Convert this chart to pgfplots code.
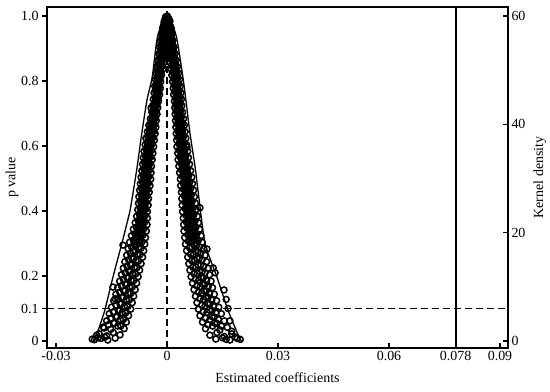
\documentclass[border=0pt]{standalone}
\usepackage{fontspec}
\setmainfont{Liberation Serif}
\usepackage{pgfplots}
\usepackage{pgfplotstable}
\pgfplotsset{compat=1.18}

% p values of the placebo estimates (coefficient, p value)
\pgfplotstableread[row sep=\\]{
x y\\
-0.0003 0.998\\ -0.0001 0.994\\ 0.0000 0.990\\ -0.0002 0.985\\
-0.0008 0.982\\ -0.0005 0.975\\ -0.0003 0.986\\ -0.0001 0.978\\
-0.0012 0.963\\ -0.0008 0.955\\ -0.0005 0.967\\ -0.0002 0.958\\
-0.0015 0.944\\ -0.0011 0.934\\ -0.0007 0.947\\ -0.0003 0.938\\
-0.0018 0.923\\ -0.0013 0.914\\ -0.0008 0.927\\ -0.0004 0.918\\
-0.0020 0.904\\ -0.0015 0.894\\ -0.0010 0.907\\ -0.0005 0.898\\
-0.0022 0.884\\ -0.0016 0.874\\ -0.0011 0.887\\ -0.0006 0.878\\
-0.0025 0.863\\ -0.0019 0.854\\ -0.0013 0.867\\ -0.0008 0.858\\
-0.0027 0.844\\ -0.0021 0.834\\ -0.0015 0.847\\ -0.0010 0.838\\
-0.0029 0.824\\ -0.0024 0.814\\ -0.0019 0.827\\ -0.0015 0.818\\
-0.0031 0.804\\ -0.0026 0.794\\ -0.0021 0.807\\ -0.0017 0.798\\
-0.0033 0.784\\ -0.0028 0.774\\ -0.0023 0.787\\ -0.0018 0.778\\
-0.0035 0.764\\ -0.0029 0.754\\ -0.0024 0.767\\ -0.0020 0.758\\
-0.0037 0.744\\ -0.0031 0.734\\ -0.0027 0.747\\ -0.0023 0.738\\
-0.0039 0.724\\ -0.0034 0.714\\ -0.0029 0.727\\ -0.0025 0.718\\
-0.0041 0.704\\ -0.0036 0.694\\ -0.0031 0.707\\ -0.0027 0.698\\
-0.0045 0.684\\ -0.0039 0.674\\ -0.0034 0.687\\ -0.0029 0.678\\
-0.0049 0.664\\ -0.0043 0.654\\ -0.0036 0.667\\ -0.0030 0.658\\
-0.0053 0.644\\ -0.0046 0.634\\ -0.0039 0.647\\ -0.0032 0.638\\
-0.0057 0.624\\ -0.0049 0.614\\ -0.0042 0.627\\ -0.0034 0.618\\
-0.0059 0.604\\ -0.0051 0.594\\ -0.0044 0.607\\ -0.0036 0.598\\
-0.0062 0.584\\ -0.0054 0.574\\ -0.0046 0.587\\ -0.0038 0.578\\
-0.0064 0.564\\ -0.0056 0.554\\ -0.0048 0.567\\ -0.0040 0.558\\
-0.0066 0.544\\ -0.0058 0.534\\ -0.0050 0.547\\ -0.0042 0.538\\
-0.0068 0.524\\ -0.0060 0.514\\ -0.0051 0.527\\ -0.0043 0.518\\
-0.0070 0.504\\ -0.0061 0.494\\ -0.0053 0.507\\ -0.0044 0.498\\
-0.0072 0.484\\ -0.0063 0.474\\ -0.0055 0.487\\ -0.0046 0.478\\
-0.0074 0.464\\ -0.0065 0.454\\ -0.0057 0.467\\ -0.0048 0.458\\
-0.0076 0.444\\ -0.0067 0.434\\ -0.0058 0.447\\ -0.0050 0.438\\
-0.0077 0.424\\ -0.0068 0.414\\ -0.0060 0.427\\ -0.0051 0.418\\
-0.0079 0.404\\ -0.0070 0.394\\ -0.0062 0.407\\ -0.0053 0.398\\
-0.0082 0.384\\ -0.0072 0.374\\ -0.0063 0.387\\ -0.0053 0.378\\
-0.0086 0.364\\ -0.0075 0.354\\ -0.0065 0.367\\ -0.0054 0.358\\
-0.0091 0.344\\ -0.0079 0.334\\ -0.0067 0.347\\ -0.0056 0.338\\
-0.0096 0.324\\ -0.0083 0.314\\ -0.0070 0.327\\ -0.0058 0.318\\
-0.0101 0.304\\ -0.0087 0.294\\ -0.0073 0.307\\ -0.0060 0.298\\
-0.0105 0.284\\ -0.0091 0.274\\ -0.0077 0.287\\ -0.0063 0.278\\
-0.0109 0.264\\ -0.0095 0.254\\ -0.0080 0.267\\ -0.0066 0.258\\
-0.0114 0.244\\ -0.0099 0.234\\ -0.0084 0.247\\ -0.0070 0.238\\
-0.0118 0.224\\ -0.0103 0.214\\ -0.0088 0.227\\ -0.0074 0.218\\
-0.0123 0.204\\ -0.0108 0.194\\ -0.0093 0.207\\ -0.0078 0.198\\
-0.0128 0.184\\ -0.0112 0.174\\ -0.0097 0.187\\ -0.0082 0.178\\
-0.0133 0.164\\ -0.0117 0.154\\ -0.0101 0.167\\ -0.0086 0.158\\
-0.0138 0.144\\ -0.0122 0.134\\ -0.0105 0.147\\ -0.0090 0.138\\
-0.0144 0.124\\ -0.0127 0.114\\ -0.0110 0.127\\ -0.0094 0.118\\
-0.0150 0.104\\ -0.0132 0.094\\ -0.0115 0.107\\ -0.0098 0.098\\
-0.0156 0.084\\ -0.0138 0.074\\ -0.0121 0.087\\ -0.0104 0.078\\
-0.0163 0.062\\ -0.0144 0.055\\ -0.0126 0.066\\ -0.0110 0.058\\
-0.0172 0.043\\ -0.0152 0.036\\ -0.0133 0.046\\ -0.0116 0.038\\
-0.0183 0.022\\ -0.0163 0.016\\ -0.0145 0.026\\ -0.0127 0.019\\
-0.0196 0.004\\ -0.0178 0.008\\ -0.0160 0.003\\ -0.0140 0.009\\
-0.0043 0.717\\ -0.0119 0.295\\ -0.0146 0.166\\ -0.0140 0.130\\
-0.0170 0.040\\ -0.0190 0.018\\ -0.0202 0.006\\ -0.0186 0.010\\
-0.0168 0.012\\
-0.0005 0.990\\ -0.0004 0.995\\ -0.0002 0.986\\
-0.0009 0.970\\ -0.0006 0.975\\ -0.0003 0.966\\
-0.0012 0.950\\ -0.0008 0.955\\ -0.0005 0.946\\
-0.0014 0.930\\ -0.0010 0.935\\ -0.0006 0.926\\
-0.0016 0.910\\ -0.0012 0.915\\ -0.0007 0.906\\
-0.0018 0.890\\ -0.0013 0.895\\ -0.0008 0.886\\
-0.0020 0.870\\ -0.0015 0.875\\ -0.0010 0.866\\
-0.0023 0.850\\ -0.0018 0.855\\ -0.0012 0.846\\
-0.0025 0.830\\ -0.0020 0.835\\ -0.0016 0.826\\
-0.0027 0.810\\ -0.0023 0.815\\ -0.0019 0.806\\
-0.0029 0.790\\ -0.0025 0.795\\ -0.0020 0.786\\
-0.0031 0.770\\ -0.0026 0.775\\ -0.0022 0.766\\
-0.0032 0.750\\ -0.0028 0.755\\ -0.0024 0.746\\
-0.0034 0.730\\ -0.0030 0.735\\ -0.0027 0.726\\
-0.0037 0.710\\ -0.0033 0.715\\ -0.0029 0.706\\
-0.0040 0.690\\ -0.0036 0.695\\ -0.0031 0.686\\
-0.0044 0.670\\ -0.0039 0.675\\ -0.0033 0.666\\
-0.0048 0.650\\ -0.0042 0.655\\ -0.0035 0.646\\
-0.0052 0.630\\ -0.0045 0.635\\ -0.0038 0.626\\
-0.0054 0.610\\ -0.0047 0.615\\ -0.0040 0.606\\
-0.0057 0.590\\ -0.0049 0.595\\ -0.0042 0.586\\
-0.0059 0.570\\ -0.0052 0.575\\ -0.0044 0.566\\
-0.0061 0.550\\ -0.0053 0.555\\ -0.0046 0.546\\
-0.0063 0.530\\ -0.0055 0.535\\ -0.0047 0.526\\
-0.0065 0.510\\ -0.0057 0.515\\ -0.0049 0.506\\
-0.0067 0.490\\ -0.0059 0.495\\ -0.0050 0.486\\
-0.0069 0.470\\ -0.0061 0.475\\ -0.0052 0.466\\
-0.0070 0.450\\ -0.0062 0.455\\ -0.0054 0.446\\
-0.0072 0.430\\ -0.0064 0.435\\ -0.0056 0.426\\
-0.0073 0.410\\ -0.0065 0.415\\ -0.0057 0.406\\
-0.0075 0.390\\ -0.0067 0.395\\ -0.0059 0.386\\
-0.0078 0.370\\ -0.0069 0.375\\ -0.0060 0.366\\
-0.0083 0.350\\ -0.0072 0.355\\ -0.0062 0.346\\
-0.0087 0.330\\ -0.0076 0.335\\ -0.0065 0.326\\
-0.0091 0.310\\ -0.0079 0.315\\ -0.0067 0.306\\
-0.0096 0.290\\ -0.0083 0.295\\ -0.0070 0.286\\
-0.0099 0.270\\ -0.0086 0.275\\ -0.0073 0.266\\
-0.0104 0.250\\ -0.0090 0.255\\ -0.0077 0.246\\
-0.0108 0.230\\ -0.0095 0.235\\ -0.0081 0.226\\
-0.0113 0.210\\ -0.0099 0.215\\ -0.0085 0.206\\
-0.0118 0.190\\ -0.0104 0.195\\ -0.0090 0.186\\
-0.0123 0.170\\ -0.0108 0.175\\ -0.0094 0.166\\
-0.0128 0.150\\ -0.0113 0.155\\ -0.0098 0.146\\
-0.0133 0.130\\ -0.0118 0.135\\ -0.0102 0.126\\
-0.0138 0.110\\ -0.0123 0.115\\ -0.0107 0.106\\
-0.0145 0.090\\ -0.0128 0.095\\ -0.0112 0.086\\
-0.0152 0.070\\ -0.0135 0.075\\ -0.0118 0.066\\
-0.0159 0.050\\ -0.0142 0.055\\ -0.0125 0.046\\
-0.0004 0.995\\ -0.0003 0.992\\ -0.0006 0.985\\ -0.0004 0.982\\
-0.0008 0.975\\ -0.0005 0.972\\ -0.0009 0.965\\ -0.0006 0.962\\
-0.0010 0.955\\ -0.0007 0.952\\ -0.0011 0.945\\ -0.0008 0.942\\
-0.0012 0.935\\ -0.0008 0.932\\ -0.0013 0.925\\ -0.0009 0.922\\
-0.0014 0.915\\ -0.0010 0.912\\ -0.0015 0.905\\ -0.0010 0.902\\
-0.0016 0.895\\ -0.0011 0.892\\ -0.0016 0.885\\ -0.0012 0.882\\
-0.0018 0.875\\ -0.0013 0.872\\ -0.0019 0.865\\ -0.0014 0.862\\
-0.0020 0.855\\ -0.0015 0.852\\ -0.0021 0.845\\ -0.0016 0.842\\
-0.0023 0.835\\ -0.0018 0.832\\ -0.0024 0.825\\ -0.0020 0.822\\
-0.0025 0.815\\ -0.0021 0.812\\ -0.0026 0.805\\ -0.0022 0.802\\
-0.0027 0.795\\ -0.0023 0.792\\ -0.0028 0.785\\ -0.0023 0.782\\
-0.0028 0.775\\ -0.0024 0.772\\ -0.0029 0.765\\ -0.0025 0.762\\
-0.0030 0.755\\ -0.0026 0.752\\ -0.0031 0.745\\ -0.0028 0.742\\
-0.0032 0.735\\ -0.0029 0.732\\ -0.0033 0.725\\ -0.0030 0.722\\
-0.0035 0.715\\ -0.0031 0.712\\ -0.0036 0.705\\ -0.0032 0.702\\
-0.0038 0.695\\ -0.0033 0.692\\ -0.0040 0.685\\ -0.0035 0.682\\
-0.0042 0.675\\ -0.0036 0.672\\ -0.0043 0.665\\ -0.0037 0.662\\
-0.0045 0.655\\ -0.0039 0.652\\ -0.0047 0.645\\ -0.0040 0.642\\
-0.0048 0.635\\ -0.0041 0.632\\ -0.0050 0.625\\ -0.0042 0.622\\
-0.0051 0.615\\ -0.0043 0.612\\ -0.0052 0.605\\ -0.0044 0.602\\
-0.0053 0.595\\ -0.0046 0.592\\ -0.0054 0.585\\ -0.0047 0.582\\
-0.0055 0.575\\ -0.0048 0.572\\ -0.0056 0.565\\ -0.0049 0.562\\
-0.0057 0.555\\ -0.0050 0.552\\ -0.0058 0.545\\ -0.0050 0.542\\
-0.0059 0.535\\ -0.0051 0.532\\ -0.0060 0.525\\ -0.0052 0.522\\
-0.0061 0.515\\ -0.0053 0.512\\ -0.0062 0.505\\ -0.0053 0.502\\
-0.0063 0.495\\ -0.0054 0.492\\ -0.0064 0.485\\ -0.0055 0.482\\
-0.0065 0.475\\ -0.0056 0.472\\ -0.0066 0.465\\ -0.0057 0.462\\
-0.0066 0.455\\ -0.0058 0.452\\ -0.0067 0.445\\ -0.0059 0.442\\
-0.0068 0.435\\ -0.0060 0.432\\ -0.0069 0.425\\ -0.0060 0.422\\
-0.0069 0.415\\ -0.0061 0.412\\ -0.0070 0.405\\ -0.0062 0.402\\
-0.0071 0.395\\ -0.0063 0.392\\ -0.0072 0.385\\ -0.0063 0.382\\
-0.0074 0.375\\ -0.0064 0.372\\ -0.0075 0.365\\ -0.0066 0.362\\
-0.0077 0.355\\ -0.0067 0.352\\ -0.0079 0.345\\ -0.0069 0.342\\
-0.0081 0.335\\ -0.0070 0.332\\ -0.0083 0.325\\ -0.0072 0.322\\
-0.0085 0.315\\ -0.0073 0.312\\ -0.0087 0.305\\ -0.0075 0.302\\
0.0000 0.996\\ 0.0001 1.000\\ 0.0003 0.992\\ 0.0004 0.988\\
0.0001 0.978\\ 0.0003 0.988\\ 0.0006 0.974\\ 0.0008 0.984\\
0.0002 0.958\\ 0.0005 0.968\\ 0.0008 0.954\\ 0.0011 0.964\\
0.0003 0.938\\ 0.0007 0.948\\ 0.0010 0.934\\ 0.0014 0.944\\
0.0004 0.918\\ 0.0008 0.928\\ 0.0012 0.914\\ 0.0016 0.924\\
0.0005 0.898\\ 0.0010 0.908\\ 0.0014 0.894\\ 0.0019 0.904\\
0.0006 0.878\\ 0.0011 0.888\\ 0.0017 0.874\\ 0.0022 0.884\\
0.0008 0.858\\ 0.0014 0.868\\ 0.0019 0.854\\ 0.0025 0.864\\
0.0010 0.838\\ 0.0016 0.848\\ 0.0022 0.834\\ 0.0028 0.844\\
0.0013 0.818\\ 0.0019 0.828\\ 0.0025 0.814\\ 0.0031 0.824\\
0.0015 0.798\\ 0.0021 0.808\\ 0.0028 0.794\\ 0.0034 0.804\\
0.0017 0.778\\ 0.0023 0.788\\ 0.0030 0.774\\ 0.0036 0.784\\
0.0018 0.758\\ 0.0025 0.768\\ 0.0031 0.754\\ 0.0038 0.764\\
0.0020 0.738\\ 0.0026 0.748\\ 0.0033 0.734\\ 0.0039 0.744\\
0.0021 0.718\\ 0.0027 0.728\\ 0.0034 0.714\\ 0.0040 0.724\\
0.0022 0.698\\ 0.0029 0.708\\ 0.0035 0.694\\ 0.0042 0.704\\
0.0023 0.678\\ 0.0030 0.688\\ 0.0038 0.674\\ 0.0045 0.684\\
0.0024 0.658\\ 0.0032 0.668\\ 0.0039 0.654\\ 0.0047 0.664\\
0.0025 0.638\\ 0.0033 0.648\\ 0.0041 0.634\\ 0.0049 0.644\\
0.0026 0.618\\ 0.0034 0.628\\ 0.0043 0.614\\ 0.0051 0.624\\
0.0027 0.598\\ 0.0036 0.608\\ 0.0044 0.594\\ 0.0053 0.604\\
0.0029 0.578\\ 0.0038 0.588\\ 0.0047 0.574\\ 0.0056 0.584\\
0.0030 0.558\\ 0.0039 0.568\\ 0.0049 0.554\\ 0.0058 0.564\\
0.0032 0.538\\ 0.0042 0.548\\ 0.0051 0.534\\ 0.0061 0.544\\
0.0034 0.518\\ 0.0044 0.528\\ 0.0054 0.514\\ 0.0064 0.524\\
0.0036 0.498\\ 0.0046 0.508\\ 0.0057 0.494\\ 0.0067 0.504\\
0.0037 0.478\\ 0.0048 0.488\\ 0.0058 0.474\\ 0.0069 0.484\\
0.0039 0.458\\ 0.0050 0.468\\ 0.0061 0.454\\ 0.0072 0.464\\
0.0040 0.438\\ 0.0051 0.448\\ 0.0063 0.434\\ 0.0074 0.444\\
0.0041 0.418\\ 0.0053 0.428\\ 0.0065 0.414\\ 0.0077 0.424\\
0.0042 0.398\\ 0.0054 0.408\\ 0.0067 0.394\\ 0.0079 0.404\\
0.0044 0.378\\ 0.0057 0.388\\ 0.0069 0.374\\ 0.0082 0.384\\
0.0045 0.358\\ 0.0058 0.368\\ 0.0072 0.354\\ 0.0085 0.364\\
0.0046 0.338\\ 0.0060 0.348\\ 0.0074 0.334\\ 0.0088 0.344\\
0.0048 0.318\\ 0.0063 0.328\\ 0.0077 0.314\\ 0.0092 0.324\\
0.0050 0.298\\ 0.0065 0.308\\ 0.0080 0.294\\ 0.0095 0.304\\
0.0053 0.278\\ 0.0068 0.288\\ 0.0084 0.274\\ 0.0099 0.284\\
0.0056 0.258\\ 0.0072 0.268\\ 0.0087 0.254\\ 0.0103 0.264\\
0.0059 0.238\\ 0.0075 0.248\\ 0.0091 0.234\\ 0.0107 0.244\\
0.0062 0.218\\ 0.0078 0.228\\ 0.0095 0.214\\ 0.0111 0.224\\
0.0065 0.198\\ 0.0082 0.208\\ 0.0098 0.194\\ 0.0115 0.204\\
0.0069 0.178\\ 0.0086 0.188\\ 0.0102 0.174\\ 0.0119 0.184\\
0.0073 0.158\\ 0.0090 0.168\\ 0.0106 0.154\\ 0.0123 0.164\\
0.0077 0.138\\ 0.0094 0.148\\ 0.0111 0.134\\ 0.0128 0.144\\
0.0081 0.118\\ 0.0099 0.128\\ 0.0116 0.114\\ 0.0134 0.124\\
0.0085 0.098\\ 0.0103 0.108\\ 0.0122 0.094\\ 0.0140 0.104\\
0.0089 0.078\\ 0.0108 0.088\\ 0.0128 0.074\\ 0.0147 0.084\\
0.0096 0.058\\ 0.0116 0.066\\ 0.0135 0.054\\ 0.0155 0.062\\
0.0104 0.038\\ 0.0123 0.046\\ 0.0143 0.034\\ 0.0163 0.042\\
0.0116 0.018\\ 0.0135 0.026\\ 0.0155 0.014\\ 0.0175 0.022\\
0.0132 0.006\\ 0.0150 0.010\\ 0.0170 0.003\\ 0.0190 0.008\\
0.0043 0.670\\ 0.0054 0.597\\ 0.0089 0.410\\ 0.0108 0.283\\
0.0130 0.210\\ 0.0125 0.225\\ 0.0154 0.157\\ 0.0160 0.128\\
0.0165 0.100\\ 0.0170 0.062\\ 0.0185 0.012\\ 0.0198 0.005\\
0.0160 0.005\\ 0.0175 0.030\\
0.0002 0.987\\ 0.0003 0.994\\ 0.0005 0.990\\
0.0003 0.967\\ 0.0006 0.974\\ 0.0008 0.970\\
0.0005 0.947\\ 0.0008 0.954\\ 0.0011 0.950\\
0.0006 0.927\\ 0.0009 0.934\\ 0.0013 0.930\\
0.0007 0.907\\ 0.0011 0.914\\ 0.0015 0.910\\
0.0009 0.887\\ 0.0013 0.894\\ 0.0018 0.890\\
0.0010 0.867\\ 0.0015 0.874\\ 0.0020 0.870\\
0.0012 0.847\\ 0.0018 0.854\\ 0.0023 0.850\\
0.0015 0.827\\ 0.0020 0.834\\ 0.0026 0.830\\
0.0018 0.807\\ 0.0023 0.814\\ 0.0029 0.810\\
0.0020 0.787\\ 0.0026 0.794\\ 0.0031 0.790\\
0.0021 0.767\\ 0.0027 0.774\\ 0.0033 0.770\\
0.0023 0.747\\ 0.0029 0.754\\ 0.0035 0.750\\
0.0024 0.727\\ 0.0030 0.734\\ 0.0036 0.730\\
0.0025 0.707\\ 0.0031 0.714\\ 0.0037 0.710\\
0.0027 0.687\\ 0.0033 0.694\\ 0.0039 0.690\\
0.0028 0.667\\ 0.0035 0.674\\ 0.0041 0.670\\
0.0029 0.647\\ 0.0036 0.654\\ 0.0043 0.650\\
0.0030 0.627\\ 0.0038 0.634\\ 0.0045 0.630\\
0.0032 0.607\\ 0.0039 0.614\\ 0.0047 0.610\\
0.0033 0.587\\ 0.0041 0.594\\ 0.0049 0.590\\
0.0035 0.567\\ 0.0043 0.574\\ 0.0051 0.570\\
0.0037 0.547\\ 0.0045 0.554\\ 0.0054 0.550\\
0.0039 0.527\\ 0.0048 0.534\\ 0.0056 0.530\\
0.0041 0.507\\ 0.0050 0.514\\ 0.0059 0.510\\
0.0043 0.487\\ 0.0052 0.494\\ 0.0062 0.490\\
0.0044 0.467\\ 0.0054 0.474\\ 0.0064 0.470\\
0.0046 0.447\\ 0.0056 0.454\\ 0.0066 0.450\\
0.0048 0.427\\ 0.0058 0.434\\ 0.0068 0.430\\
0.0049 0.407\\ 0.0060 0.414\\ 0.0071 0.410\\
0.0051 0.387\\ 0.0062 0.394\\ 0.0073 0.390\\
0.0052 0.367\\ 0.0064 0.374\\ 0.0076 0.370\\
0.0054 0.347\\ 0.0066 0.354\\ 0.0078 0.350\\
0.0056 0.327\\ 0.0069 0.334\\ 0.0081 0.330\\
0.0058 0.307\\ 0.0071 0.314\\ 0.0085 0.310\\
0.0061 0.287\\ 0.0074 0.294\\ 0.0088 0.290\\
0.0064 0.267\\ 0.0078 0.274\\ 0.0091 0.270\\
0.0067 0.247\\ 0.0081 0.254\\ 0.0095 0.250\\
0.0070 0.227\\ 0.0084 0.234\\ 0.0099 0.230\\
0.0073 0.207\\ 0.0088 0.214\\ 0.0103 0.210\\
0.0077 0.190\\ 0.0092 0.195\\ 0.0107 0.186\\
0.0081 0.170\\ 0.0096 0.175\\ 0.0111 0.166\\
0.0085 0.150\\ 0.0100 0.155\\ 0.0115 0.146\\
0.0089 0.130\\ 0.0105 0.135\\ 0.0121 0.126\\
0.0094 0.110\\ 0.0110 0.115\\ 0.0126 0.106\\
0.0098 0.090\\ 0.0115 0.095\\ 0.0132 0.086\\
0.0104 0.070\\ 0.0122 0.075\\ 0.0139 0.066\\
0.0111 0.050\\ 0.0129 0.055\\ 0.0147 0.046\\
0.0002 0.995\\ 0.0004 0.992\\ 0.0003 0.985\\ 0.0006 0.982\\
0.0004 0.975\\ 0.0007 0.972\\ 0.0005 0.965\\ 0.0008 0.962\\
0.0006 0.955\\ 0.0009 0.952\\ 0.0007 0.945\\ 0.0010 0.942\\
0.0008 0.935\\ 0.0011 0.932\\ 0.0008 0.925\\ 0.0012 0.922\\
0.0009 0.915\\ 0.0013 0.912\\ 0.0010 0.905\\ 0.0014 0.902\\
0.0011 0.895\\ 0.0015 0.892\\ 0.0012 0.885\\ 0.0016 0.882\\
0.0013 0.875\\ 0.0018 0.872\\ 0.0014 0.865\\ 0.0019 0.862\\
0.0015 0.855\\ 0.0020 0.852\\ 0.0016 0.845\\ 0.0022 0.842\\
0.0018 0.835\\ 0.0023 0.832\\ 0.0019 0.825\\ 0.0025 0.822\\
0.0020 0.815\\ 0.0026 0.812\\ 0.0022 0.805\\ 0.0027 0.802\\
0.0023 0.795\\ 0.0028 0.792\\ 0.0024 0.785\\ 0.0029 0.782\\
0.0024 0.775\\ 0.0030 0.772\\ 0.0025 0.765\\ 0.0031 0.762\\
0.0026 0.755\\ 0.0032 0.752\\ 0.0027 0.745\\ 0.0032 0.742\\
0.0027 0.735\\ 0.0033 0.732\\ 0.0028 0.725\\ 0.0033 0.722\\
0.0028 0.715\\ 0.0034 0.712\\ 0.0029 0.705\\ 0.0035 0.702\\
0.0030 0.695\\ 0.0036 0.692\\ 0.0031 0.685\\ 0.0037 0.682\\
0.0031 0.675\\ 0.0038 0.672\\ 0.0032 0.665\\ 0.0039 0.662\\
0.0033 0.655\\ 0.0040 0.652\\ 0.0033 0.645\\ 0.0041 0.642\\
0.0034 0.635\\ 0.0042 0.632\\ 0.0035 0.625\\ 0.0042 0.622\\
0.0036 0.615\\ 0.0043 0.612\\ 0.0036 0.605\\ 0.0044 0.602\\
0.0037 0.595\\ 0.0045 0.592\\ 0.0038 0.585\\ 0.0047 0.582\\
0.0039 0.575\\ 0.0047 0.572\\ 0.0040 0.565\\ 0.0048 0.562\\
0.0041 0.555\\ 0.0050 0.552\\ 0.0042 0.545\\ 0.0051 0.542\\
0.0043 0.535\\ 0.0052 0.532\\ 0.0045 0.525\\ 0.0054 0.522\\
0.0046 0.515\\ 0.0055 0.512\\ 0.0047 0.505\\ 0.0056 0.502\\
0.0048 0.495\\ 0.0057 0.492\\ 0.0048 0.485\\ 0.0058 0.482\\
0.0049 0.475\\ 0.0059 0.472\\ 0.0051 0.465\\ 0.0060 0.462\\
0.0051 0.455\\ 0.0061 0.452\\ 0.0052 0.445\\ 0.0062 0.442\\
0.0053 0.435\\ 0.0063 0.432\\ 0.0054 0.425\\ 0.0064 0.422\\
0.0054 0.415\\ 0.0065 0.412\\ 0.0055 0.405\\ 0.0066 0.402\\
0.0056 0.395\\ 0.0067 0.392\\ 0.0057 0.385\\ 0.0069 0.382\\
0.0058 0.375\\ 0.0070 0.372\\ 0.0059 0.365\\ 0.0071 0.362\\
0.0060 0.355\\ 0.0072 0.352\\ 0.0061 0.345\\ 0.0073 0.342\\
0.0062 0.335\\ 0.0075 0.332\\ 0.0063 0.325\\ 0.0077 0.322\\
0.0065 0.315\\ 0.0078 0.312\\ 0.0066 0.305\\ 0.0079 0.302\\
}\pvals

\begin{document}
\begin{tikzpicture}[font=\fontsize{14}{16}\selectfont]
\pgfplotsset{
  every axis/.append style={
    width=461bp, height=341bp, scale only axis,
    xmin=-0.03243, xmax=0.09216,
    /pgf/number format/assume math mode=true,
    axis line style={line width=1.6bp},
    major tick length=5bp,
    every tick/.style={black, line width=1.3bp},
  }
}
\begin{axis}[
  ymin=-0.0215, ymax=1.0277,
  scaled x ticks=false, scaled y ticks=false,
  xtick={-0.03,0,0.03,0.06,0.078,0.09},
  xticklabels={-0.03,0,0.03,0.06,0.078,0.09},
  ytick={0,0.1,0.2,0.4,0.6,0.8,1},
  yticklabels={0,0.1,0.2,0.4,0.6,0.8,1.0},
  xtick pos=left, ytick pos=left,
  xtick align=inside, ytick align=outside,
  xlabel={Estimated coefficients}, ylabel={p value},
  xlabel style={at={(axis description cs:0.5,-0.088)}, anchor=center},
  ylabel style={at={(axis description cs:-0.076,0.5)}, anchor=center, rotate=0},
]
\coordinate (bl) at (rel axis cs:0,0);
\coordinate (tr) at (rel axis cs:1,1);
\draw[line width=1.3bp, dash pattern=on 7bp off 4bp] (axis cs:0,-0.0215) -- (axis cs:0,1.0277);
\draw[line width=1.3bp, dash pattern=on 7bp off 4bp] (axis cs:-0.03243,0.1) -- (axis cs:0.09216,0.1);
\draw[line width=1.9bp] (axis cs:0.078,-0.0215) -- (axis cs:0.078,1.0277);
\addplot[only marks, mark=o, mark size=3bp, mark options={line width=1.5bp, black}] table {\pvals};
\end{axis}

\begin{axis}[
  ymin=-1.29, ymax=61.66,
  hide x axis, axis y line*=right,
  ytick={0,20,40,60},
  ytick align=inside,
  ylabel={Kernel density},
  ylabel style={at={(axis description cs:1.069,0.5)}, anchor=center, rotate=0},
]
\addplot[black, line width=1.3bp, smooth, tension=0.4] coordinates {
(-0.0200,0) (-0.0186,2.0) (-0.0168,5.7) (-0.0146,11.8) (-0.0122,18.0)
(-0.0100,24.0) (-0.0095,26.0) (-0.0081,32.0) (-0.0068,38.4) (-0.0054,44.5)
(-0.0040,48.7) (-0.0027,55.7) (-0.0012,59.0) (0,60.0) (0.0012,59.0)
(0.0027,55.7) (0.0043,48.7) (0.0051,44.5) (0.0062,38.4) (0.0076,32.1)
(0.0087,26.0) (0.0103,18.0) (0.0135,11.8) (0.0165,5.7) (0.0197,0.4) (0.0205,0)
};
\end{axis}

\pgfresetboundingbox
\path[use as bounding box] ([shift={(-47bp,-44bp)}]bl) rectangle ([shift={(42bp,7bp)}]tr);
\end{tikzpicture}
\end{document}
